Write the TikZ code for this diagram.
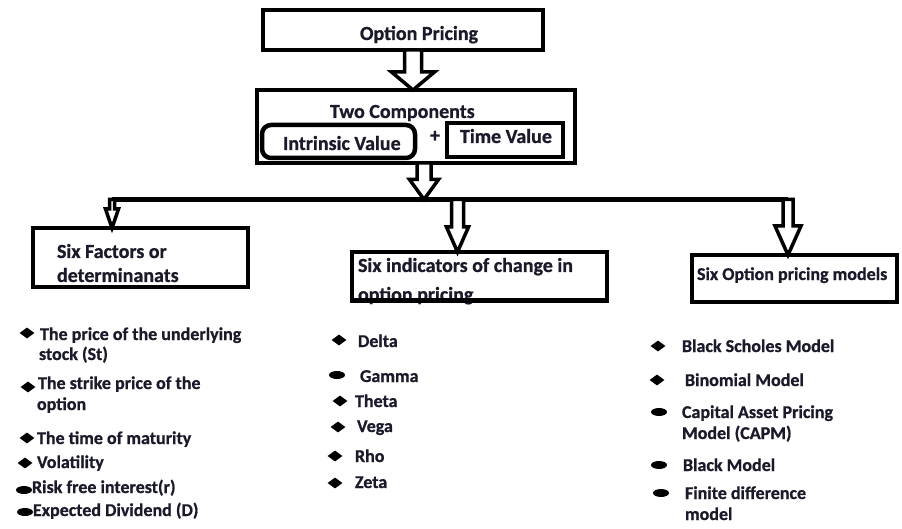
\documentclass[tikz,border=0pt]{standalone}
\usepackage{fontspec}
\setmainfont{Carlito}[BoldFont={Carlito Bold},BoldFeatures={FakeBold=0.8}]
\usetikzlibrary{calc,shapes.geometric}
\definecolor{ink}{RGB}{26,26,42}
\tikzset{
  box/.style={draw=black, line width=4.5pt, inner sep=0pt, outer sep=0pt},
  lbl/.style={inner sep=0pt, outer sep=0pt, text=ink, anchor=base west,
    font=\bfseries\fontsize{18}{20}\selectfont},
  big/.style={lbl, font=\bfseries\fontsize{20}{22}\selectfont},
  dot/.style={diamond, fill=black, inner sep=0pt, minimum width=15pt, minimum height=11pt},
  blob/.style={ellipse, fill=black, inner sep=0pt, minimum width=16pt, minimum height=8pt},
  hollow/.style={draw=black, fill=white, line width=3.5pt, line join=miter},
  bus/.style={draw=black, line width=5pt}
}
% hollow block arrow pointing down: from, to, shaft half-width, head half-width, head length
\newcommand{\blockarrow}[5]{%
  \draw[hollow] let \p1=(#1), \p2=(#2) in
    (\x1-#3pt,\y1) -- (\x1-#3pt,\y2+#5pt) -- (\x1-#4pt,\y2+#5pt) -- (\x1,\y2)
    -- (\x1+#4pt,\y2+#5pt) -- (\x1+#3pt,\y2+#5pt) -- (\x1+#3pt,\y1) -- cycle;}
\begin{document}
\begin{tikzpicture}[x=1pt,y=-1pt]
\useasboundingbox[fill=white] (0,0) rectangle (902,529);

% top of the chart
\node[box, minimum width=280pt, minimum height=40pt] (op) at (403,30) {};
\node[big] (opt) at (360,40) {Option Pricing};

\node[box, minimum width=318pt, minimum height=73pt] (two) at (416,126.5) {};
\node[big] (twot) at (330,118) {Two Components};
\node[box, rounded corners=9pt, minimum width=153pt, minimum height=33pt] (iv) at (338.5,141.5) {};
\node[big] (ivt) at (283,150) {Intrinsic Value};
\node[big] (plus) at (430,142) {+};
\node[box, line width=4pt, minimum width=116pt, minimum height=34pt] (tv) at (505,140) {};
\node[big] (tvt) at (460,143) {Time Value};

% three branches
\node[big] (sft1) at (57,258) {Six Factors or};
\node[big] (sft2) at (57,282) {determinanats};
\node[box, minimum width=215pt, minimum height=59pt] (sf) at (140.5,257.5) {};

\node[big] (indt1) at (358,272) {Six indicators of change in};
\node[big] (indt2) at (358,301) {option pricing};
\node[box, minimum width=255pt, minimum height=48.5pt] (ind) at (479.5,276.25) {};

\node[lbl] (modt) at (697,280) {Six Option pricing models};
\node[box, minimum width=205pt, minimum height=47pt] (mod) at (794.5,278.5) {};

% connectors
\coordinate (busL) at (112,199.5);
\coordinate (busR) at (788,199.5);
\coordinate (xa) at (413,0);
\coordinate (xb) at (424,0);
\coordinate (xm) at (457.5,0);
\draw[bus] (busL) -- (busR);
\blockarrow{op.south -| xa}{two.north -| xa}{8.5}{21.5}{18}
\blockarrow{two.south -| xb}{busL -| xb}{7}{14.5}{20}
\blockarrow{busL}{sf.north -| busL}{2.5}{6.5}{19}
\blockarrow{busL -| xm}{ind.north -| xm}{6}{11}{25}
\blockarrow{busR}{mod.north -| busR}{5}{13}{29}

% six factors
\node[dot] (f1) at (27,333) {};
\node[lbl] (f1a) at (40,340) {The price of the underlying};
\node[lbl] (f1b) at (39,360) {stock (St)};
\node[dot] (f2) at (28,387) {};
\node[lbl] (f2a) at (38,389) {The strike price of the};
\node[lbl] (f2b) at (37,410) {option};
\node[dot] (f3) at (27,438) {};
\node[lbl] (f3a) at (37,444) {The time of maturity};
\node[dot] (f4) at (25,463) {};
\node[lbl] (f4a) at (37,468) {Volatility};
\node[blob] (f5) at (24,490) {};
\node[lbl] (f5a) at (32,493) {Risk free interest(r)};
\node[blob] (f6) at (25,512) {};
\node[lbl] (f6a) at (33,516) {Expected Dividend (D)};

% six indicators
\node[dot] (g1) at (339,340) {};
\node[lbl] (g1a) at (358,347) {Delta};
\node[blob] (g2) at (337,375) {};
\node[lbl] (g2a) at (360,382) {Gamma};
\node[dot] (g3) at (340,401) {};
\node[lbl] (g3a) at (355,407) {Theta};
\node[dot] (g4) at (338,427) {};
\node[lbl] (g4a) at (357,432) {Vega};
\node[dot] (g5) at (335,456) {};
\node[lbl] (g5a) at (355,462) {Rho};
\node[dot] (g6) at (335,483) {};
\node[lbl] (g6a) at (355,488) {Zeta};

% six models
\node[dot] (m1) at (658,346) {};
\node[lbl] (m1a) at (682,352) {Black Scholes Model};
\node[dot] (m2) at (657,380) {};
\node[lbl] (m2a) at (685,386) {Binomial Model};
\node[blob] (m3) at (659,412) {};
\node[lbl] (m3a) at (682,418) {Capital Asset Pricing};
\node[lbl] (m3b) at (682,439) {Model (CAPM)};
\node[blob] (m4) at (659,465) {};
\node[lbl] (m4a) at (683,471) {Black Model};
\node[blob] (m5) at (661,493) {};
\node[lbl] (m5a) at (685,499) {Finite difference};
\node[lbl] (m5b) at (685,520) {model};
\end{tikzpicture}
\end{document}
